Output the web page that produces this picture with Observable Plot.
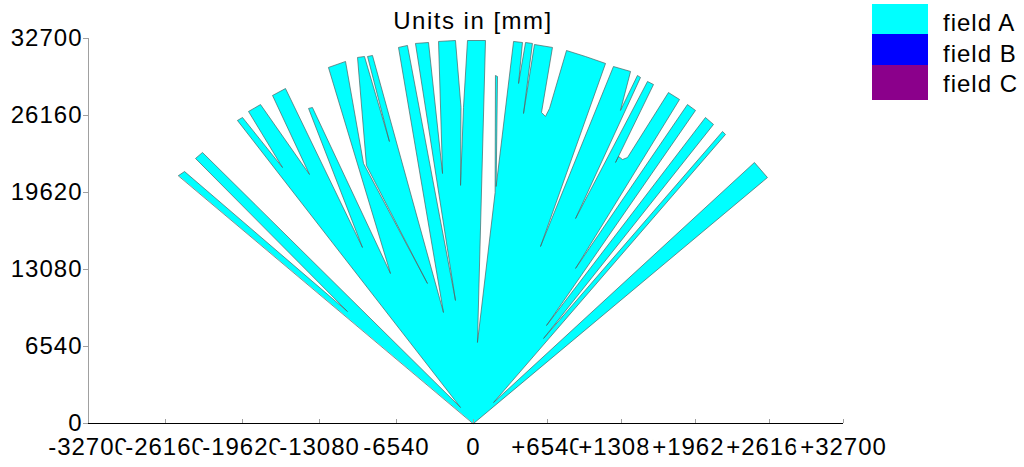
<!DOCTYPE html>
<html>
<head>
<meta charset="utf-8">
<script src="https://cdn.jsdelivr.net/npm/d3@7"></script>
<script src="https://cdn.jsdelivr.net/npm/@observablehq/plot@0.6"></script>
<style>
html, body { margin: 0; padding: 0; background: #fff; }
#wrap { position: relative; width: 1024px; height: 467px; overflow: hidden;
        font-family: "Liberation Sans", Arial, sans-serif; color: #000; }
#wrap svg { position: absolute; left: 0; top: 0; }
#title { position: absolute; left: 0; width: 946px; top: 7px; text-align: center;
         font-size: 24px; line-height: 28px; letter-spacing: 1.5px; }
.sw { position: absolute; left: 872px; width: 56px; }
.lt { position: absolute; left: 943px; font-size: 24px; line-height: 24px; letter-spacing: 1px; white-space: nowrap; }
</style>
</head>
<body>
<div id="wrap"></div>
<script>
// Field A outline (mm), vertices in order around the scanner field
const fieldX = [0, 25980, 24830, 1770, 22270, 22010, 6190, 21210, 20500, 6450,
  19620, 18910, 9020, 18210, 17230, 13610, 13170, 12820, 12550, 15910,
  15380, 9020, 14760, 14490, 12990, 13880, 12370, 5920, 11670, 9900,
  8220, 6720, 6360, 6010, 6980, 5390, 4420, 5210, 4600, 3980,
  4330, 3540, 2000, 2120, 1940, 1910, 350, 1060, -510, -850,
  -1100, -1060, -1530, -2970, -2630, -3820, -4930, -1530, -5610, -6370,
  -2550, -8580, -9000, -7140, -9260, -9850, -9090, -3910, -9340, -10870,
  -12320, -7050, -13680, -14010, -9430, -15970, -17070, -13930, -18090, -19110,
  -16220, -19620, -20050, -1100, -23020, -23610, -10700, -24540, -25050];
const fieldY = [0, 20890, 22170, 1780, 24550, 24800, 7220, 25400, 25990, 8320,
  26590, 27090, 13170, 27520, 28110, 22590, 22420, 22680, 22170, 28790,
  29050, 17410, 29390, 29560, 26590, 29900, 30320, 15030, 30580, 31170,
  31680, 26760, 26080, 26420, 31940, 32190, 26330, 32280, 32360, 28880,
  32360, 32450, 20130, 29470, 29560, 19620, 6880, 32530, 32530, 26840,
  20220, 26840, 32530, 32450, 21230, 32360, 32280, 10450, 32110, 31940,
  9430, 31260, 31170, 23950, 31170, 31090, 21910, 11890, 22080, 30750,
  30240, 12740, 26840, 26760, 14950, 28450, 27860, 21150, 27090, 26500,
  21740, 25990, 25740, 1360, 23020, 22510, 9510, 21400, 21060];

const xTicks = [-32700, -26160, -19620, -13080, -6540, 0, 6540, 13080, 19620, 26160, 32700];
const xTickLabels = ["-32700", "-26160", "-19620", "-13080", "-6540", "0", "+6540", "+13080", "+19620", "+26160", "+32700"];
const yTicks = [0, 6540, 13080, 19620, 26160, 32700];
const yTickLabels = ["0", "6540", "13080", "19620", "26160", "32700"];
const legendLabels = ["field A", "field B", "field C"];
const legendColors = ["#00ffff", "#0000ff", "#8b008b"];
const titleText = "Units in [mm]";

const pts = fieldX.map((x, i) => ({x, y: fieldY[i]}));

// the reference axis is slightly compressed on the positive side (74 px vs 77 px per step)
const rightSquash = 74 / 77;

const chart = Plot.plot({
  width: 1024,
  height: 467,
  marginLeft: 88,
  marginRight: 181,
  marginTop: 38,
  marginBottom: 44,
  x: {axis: null, transform: v => (v > 0 ? v * rightSquash : v), domain: [-32700, 32700 * rightSquash], range: [88, 843]},
  y: {axis: null, domain: [0, 32700], range: [423, 38]},
  style: {fontFamily: '"Liberation Sans", Arial, sans-serif', fontSize: "24px", background: "transparent", overflow: "visible", letterSpacing: "1px"},
  marks: [
    Plot.text(xTicks, {x: d => d, text: (d, i) => xTickLabels[i], frameAnchor: "bottom", dy: 31,
      fill: "#000", stroke: "#fff", strokeWidth: 12, paintOrder: "stroke", fontSize: 24}),
    Plot.line(pts, {x: "x", y: "y", fill: "#00ffff", stroke: "#4a6363", strokeWidth: 0.7, curve: "linear-closed"}),
    Plot.ruleX([-32700], {y1: 0, y2: 32700, stroke: "#a0a0a0", strokeWidth: 1}),
    Plot.ruleY([0], {x1: -32700, x2: 32700, stroke: "#000", strokeWidth: 1}),
    Plot.tickX(xTicks, {x: d => d, insetTop: 381, stroke: "#a0a0a0"}),
    Plot.tickY(yTicks, {y: d => d, insetLeft: -5, insetRight: 755, stroke: "#a0a0a0"}),
    Plot.text(yTicks, {y: d => d, text: (d, i) => yTickLabels[i], frameAnchor: "left", textAnchor: "end", dx: -6, fill: "#000", fontSize: 24})
  ]
});

const wrap = document.getElementById("wrap");
wrap.appendChild(chart);

const title = document.createElement("div");
title.id = "title";
title.textContent = titleText;
wrap.appendChild(title);

const swTops = [4, 34, 65], swHeights = [30, 31, 35], txtTops = [11, 42, 72];
legendLabels.forEach((lab, i) => {
  const sw = document.createElement("div");
  sw.className = "sw";
  sw.style.top = swTops[i] + "px";
  sw.style.height = swHeights[i] + "px";
  sw.style.background = legendColors[i];
  wrap.appendChild(sw);
  const t = document.createElement("div");
  t.className = "lt";
  t.style.top = txtTops[i] + "px";
  t.textContent = lab;
  wrap.appendChild(t);
});
</script>
</body>
</html>
